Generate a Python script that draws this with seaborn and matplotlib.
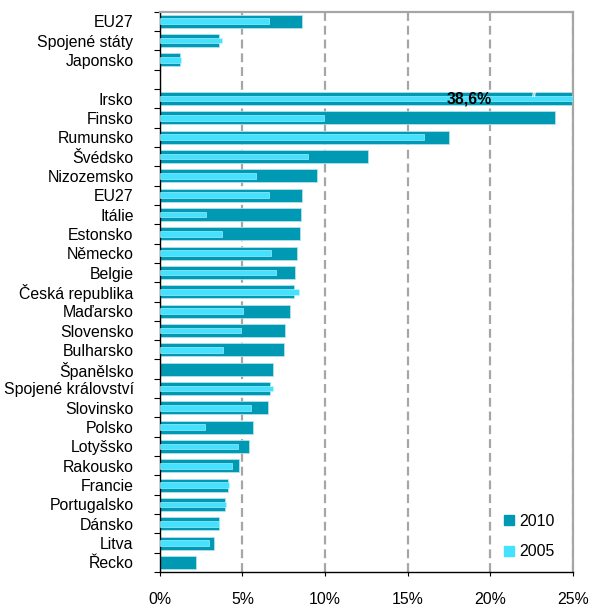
import matplotlib
matplotlib.use("Agg")
import numpy as np
import pandas as pd
import seaborn as sns
import matplotlib.pyplot as plt
from matplotlib.lines import Line2D

# rows top to bottom, "" is the empty separator row
labels = [
    "EU27", "Spojené státy", "Japonsko", "",
    "Irsko", "Finsko", "Rumunsko", "Švédsko", "Nizozemsko", "EU27",
    "Itálie", "Estonsko", "Německo", "Belgie", "Česká republika",
    "Maďarsko", "Slovensko", "Bulharsko", "Španělsko", "Spojené království",
    "Slovinsko", "Polsko", "Lotyšsko", "Rakousko", "Francie",
    "Portugalsko", "Dánsko", "Litva", "Řecko",
]
v2010 = [
    8.6, 3.6, 1.2, np.nan,
    38.6, 23.9, 17.5, 12.6, 9.5, 8.6,
    8.55, 8.5, 8.3, 8.2, 8.1,
    7.9, 7.55, 7.5, 6.85, 6.65,
    6.55, 5.65, 5.4, 4.8, 4.1,
    3.95, 3.6, 3.25, 2.2,
]
v2005 = [
    6.6, 3.75, 1.3, np.nan,
    30.0, 9.95, 16.0, 8.95, 5.8, 6.6,
    2.8, 3.75, 6.7, 7.0, 8.4,
    5.05, 4.9, 3.8, np.nan, 6.85,
    5.5, 2.75, 4.7, 4.35, 4.2,
    4.0, 3.6, 3.0, np.nan,
]

dark = "#0099B4"
light = "#45E2FF"

keys = [str(i) for i in range(len(labels))]
df = pd.DataFrame({"row": keys, "y2010": v2010, "y2005": v2005})

plt.rcParams["font.family"] = ["Liberation Sans", "DejaVu Sans"]
fig = plt.figure(figsize=(5.9, 6.08), dpi=100)
ax = fig.add_axes([0.271, 0.059, 0.700, 0.922])

sns.barplot(data=df, x="y2010", y="row", order=keys, orient="h", color=dark,
            saturation=1, width=0.68, errorbar=None, ax=ax,
            edgecolor="#BDE6EE", linewidth=0.5, zorder=2)
sns.barplot(data=df, x="y2005", y="row", order=keys, orient="h", color=light,
            saturation=1, width=0.3, errorbar=None, ax=ax,
            edgecolor="#C8F6FF", linewidth=0.4, zorder=3)

ax.set_xlim(0, 25)
ax.set_ylim(len(labels) - 0.5, -0.5)
ax.set_xlabel("")
ax.set_ylabel("")

# y: labels at centers, tick marks at row boundaries
ax.set_yticks(range(len(labels)))
ax.set_yticklabels(labels, fontsize=11.4)
ax.tick_params(axis="y", which="major", length=0, pad=19)
ax.set_yticks(np.arange(-0.5, len(labels), 1), minor=True)
ax.tick_params(axis="y", which="minor", length=4, width=0.8, color="black")

ax.set_xticks([0, 5, 10, 15, 20, 25])
ax.set_xticklabels(["0%", "5%", "10%", "15%", "20%", "25%"], fontsize=11.4)
ax.tick_params(axis="x", length=3, width=0.8, pad=11)

ax.xaxis.grid(True, color="#A6A6A6", linewidth=1.6, linestyle=(0, (4, 2.2)), zorder=0)
ax.yaxis.grid(False)
ax.set_axisbelow(True)

for side in ["top", "right"]:
    ax.spines[side].set_color("#A6A6A6")
    ax.spines[side].set_linewidth(1.6)
for side in ["left", "bottom"]:
    ax.spines[side].set_color("black")
    ax.spines[side].set_linewidth(1.0)

ax.text(18.75, 4, "38,6%", ha="center", va="center", fontsize=11.4,
        fontweight="bold", zorder=5)
ax.text(22.7, 3.75, "//", ha="center", va="center", fontsize=7,
        color="white", fontweight="bold", zorder=5)

handles = [
    Line2D([], [], marker="s", linestyle="", color=dark, markersize=7),
    Line2D([], [], marker="s", linestyle="", color=light, markersize=7),
]
ax.legend(handles, ["2010", "2005"], loc="upper left",
          bbox_to_anchor=(0.80, 0.13), frameon=False, fontsize=11.4,
          handlelength=0.6, handletextpad=0.3, labelspacing=1.0)

fig.savefig("out.png", dpi=100)
